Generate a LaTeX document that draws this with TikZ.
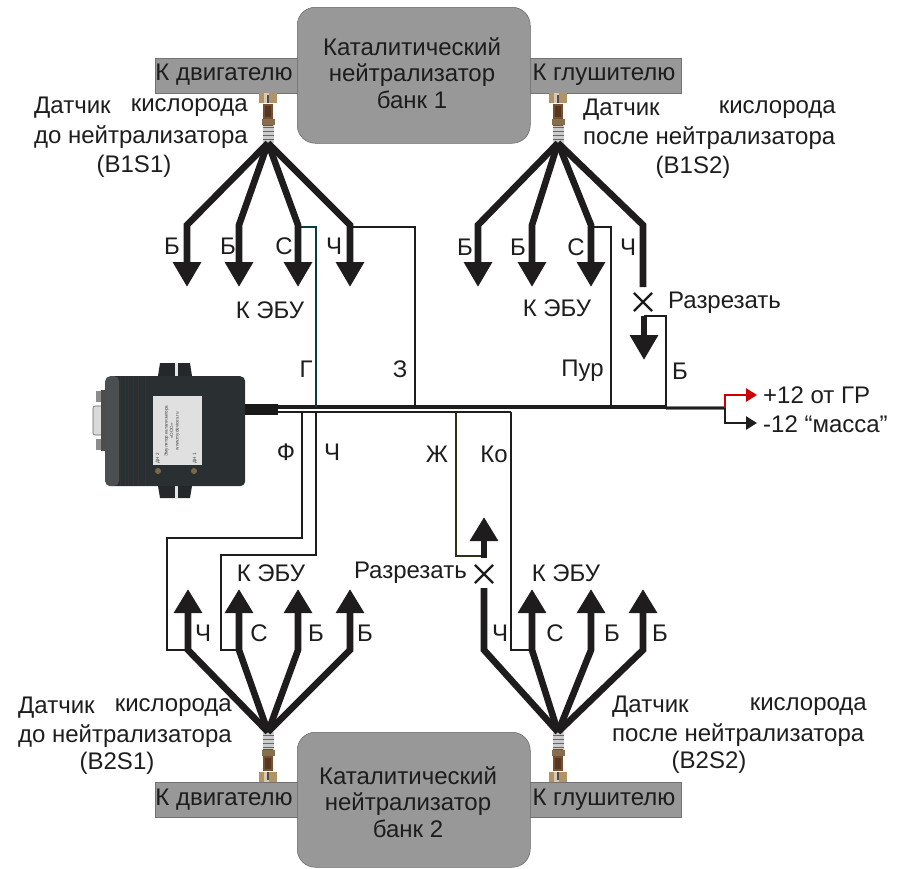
\documentclass[tikz,border=0pt]{standalone}
\usepackage{fontspec}
\setmainfont{Liberation Sans}
\usetikzlibrary{arrows.meta,shapes.misc}
\definecolor{boxgray}{HTML}{989898}
\definecolor{ink}{HTML}{1E1C1C}
\definecolor{teal}{HTML}{0C3A44}
\definecolor{olive}{HTML}{2C3014}
\definecolor{devdark}{HTML}{2A2F31}
\definecolor{brass}{HTML}{B09468}
\definecolor{copper}{HTML}{7A4F30}
\newcommand{\sensorbody}{%
    \fill[black!20] (-5.5,32) rectangle (5.5,50);
    \foreach \yy in {34,38,42,46}{\fill[black!60] (-5.5,\yy) rectangle (5.5,\yy+1.3);}
    \fill[copper] (-5,11) rectangle (5,33);
    \fill[brass!75!black] (-6.5,26) rectangle (6.5,32);
    \fill[copper!70!black] (-3,13) rectangle (3,24);
    \fill[brass] (-9,0) rectangle (9,10);
    \fill[brass!50!white] (-4,0) rectangle (1,10);
    \fill[black!70] (-1.2,2) rectangle (1,10);
}
\tikzset{
  every node/.style={inner sep=0pt,text=ink,font=\fontsize{24}{26}\selectfont},
  catbox/.style={fill=boxgray,draw=black!60,line width=.5,rounded corners=18},
  barbox/.style={fill=boxgray,draw=black!55,line width=.5},
  thickwire/.style={line width=6.6,draw=ink,line join=miter},
  headwire/.style={thickwire,-{Triangle[length=25,width=27]}},
  headwireb/.style={thickwire,-{Triangle[length=24,width=27]}},
  thinwire/.style={line width=2.7,draw=ink},
  smallhead/.style={line width=2.5,-{Triangle[length=11,width=13]}},
  cutmark/.style={cross out,draw=ink,line width=2.2,minimum size=16},
  tiny/.style={font=\fontsize{4.6}{5.6}\selectfont,text=black!75,rotate=90,align=center},
  pics/sensor/.style={code={\sensorbody}},
  pics/sensorup/.style={code={\begin{scope}[y=1pt]\sensorbody\end{scope}}}
}
\begin{document}
\begin{tikzpicture}[x=1pt,y=-1pt]
\useasboundingbox (0,0) rectangle (901,868);
% ---- catalytic converters and pipes
\node[barbox,minimum width=145,minimum height=35,anchor=north west] (eng1) at (155,58) {};
\node[barbox,minimum width=154,minimum height=35,anchor=north west] (muf1) at (527,58) {};
\node[catbox,minimum width=233,minimum height=136,anchor=north west] (cat1) at (297,7) {};
\node[barbox,minimum width=145,minimum height=35,anchor=north west] (eng2) at (155,782) {};
\node[barbox,minimum width=154,minimum height=35,anchor=north west] (muf2) at (527,782) {};
\node[catbox,minimum width=233,minimum height=135,anchor=north west] (cat2) at (297,732) {};
\node (eng1t) at (224,75) {К двигателю};
\node (muf1t) at (604,75) {К глушителю};
\node (eng2t) at (224,800) {К двигателю};
\node (muf2t) at (604,800) {К глушителю};
\node[align=center,font=\fontsize{24}{26.5}\selectfont] (cat1t) at (412,73) {Каталитический\\нейтрализатор\\банк 1};
\node[align=center,font=\fontsize{24}{26.5}\selectfont] (cat2t) at (408,802) {Каталитический\\нейтрализатор\\банк 2};
% ---- sensors
\pic at (268,93) {sensor};
\pic at (558,93) {sensor};
\pic at (268,782) {sensorup};
\pic at (558,782) {sensorup};
% ---- named points
\coordinate (a1) at (268,143);
\coordinate (a2) at (558,143);
\coordinate (a3) at (268,732);
\coordinate (a4) at (558,732);
\foreach \nm/\x in {k1/187,k2/239,k3/298,k4/350,k5/478,k6/532,k7/591,k8/643}{
  \coordinate (\nm) at (\x,225);
  \coordinate (\nm t) at (\x,287);
}
\foreach \nm/\x in {m1/188,m2/239,m3/298,m4/350,m5/484,m6/532,m7/591,m8/643}{
  \coordinate (\nm) at (\x,650);
  \coordinate (\nm t) at (\x,589);
}
% ---- main harness
\coordinate (bS) at (278,407);
\coordinate (bJ) at (456,412);
\coordinate (bK) at (511,412);
\coordinate (bM) at (611,407);
\coordinate (bE) at (666,407);
\coordinate (bR) at (725,408);
\draw[line width=3.6,draw=black!50] (bE |- bR) -- (bR);
\draw[line width=2.2,draw=ink] (bE |- bR) -- (bR);
\draw[line width=4.4,draw=ink] (bS) -- (bM);
\draw[line width=3.6,draw=ink] (bM) -- (bE);
\draw[line width=2.5,draw=ink] (bS |- bK) -- (bK);
% ---- thin wires, top
\draw[thinwire,draw=teal] (k3) ++(0,2) -| (316,407);
\draw[thinwire] (k4) ++(0,2) -| (415,407);
\draw[thinwire] (k7) ++(0,2) -| (611,407);
% ---- fans, top
\foreach \nm in {k1,k2,k3,k4}{ \draw[headwire] (a1) -- (\nm) -- (\nm t); }
\foreach \nm in {k5,k6,k7}{ \draw[headwire] (a2) -- (\nm) -- (\nm t); }
\node[cutmark] (cut1) at (643,302) {};
\coordinate (u1) at (644,316);
\coordinate (u1t) at (644,360);
\draw[thickwire] (a2) -- (k8) -- (643,287);
\draw[thinwire] (u1) -| (666,407);
\draw[headwire] (u1) -- (u1t);
% ---- thin wires, bottom
\draw[thinwire] (302,411) -- (302,538) -- (167,538) |- (m1);
\draw[thinwire] (316,411) -- (316,555) -- (221,555) |- (m2);
\draw[thinwire,draw=olive] (bJ) -- (456,556) -- (484,556);
\draw[thinwire] (bK) -- (511,650) -- (m6);
% ---- fans, bottom
\foreach \nm in {m1,m2,m3,m4}{ \draw[headwireb] (a3) -- (\nm) -- (\nm t); }
\foreach \nm in {m6,m7,m8}{ \draw[headwireb] (a4) -- (\nm) -- (\nm t); }
\node[cutmark] (cut2) at (484,574) {};
\draw[thickwire] (a4) -- (m5) -- (484,588);
\coordinate (u2) at (484,558);
\coordinate (u2t) at (484,517);
\draw[headwireb] (u2) -- (u2t);
% ---- power wires
\coordinate (pr) at (757,395);
\coordinate (pb) at (757,423);
\draw[smallhead,draw=red!80!black] (bR) |- (pr);
\draw[smallhead,draw=ink] (bR) |- (pb);
% ---- device
\fill[devdark!85!black] (158,376) -- (160,363) -- (190,363) -- (192,376) -- cycle;
\fill[devdark!85!black] (158,486) -- (160,498) -- (190,498) -- (192,486) -- cycle;
\fill[white!90!black] (174.5,363) rectangle (177.5,376);
\fill[white!90!black] (174.5,486) rectangle (177.5,498);
\fill[black!45] (96,391) rectangle (105,402);
\fill[black!45] (96,439) rectangle (105,450);
\fill[black!15,draw=black!60,line width=.6,rounded corners=2] (93,406) rectangle (105,435);
\fill[black!70] (101,390) rectangle (107,451);
\node[fill=devdark,rounded corners=5,minimum width=140,minimum height=110,anchor=north west] (dev) at (105,376) {};
\foreach \x in {120,125,128,133,138,145}{\draw[black!80,line width=.8] (\x,376) -- (\x,486);}
\fill[black!30,opacity=.25,rounded corners=5] (105,376) rectangle (119,486);
\node[fill=black!12,minimum width=49,minimum height=69,anchor=north west] (lab) at (153,396) {};
\node[tiny] (lab1) at (172,431) {Эмулятор катализатора\\«ООО»\\www.mydevices.ru};
\node[tiny] (lab2) at (158,458) {ДН 2};
\node[tiny] (lab3) at (195,458) {ДН 1};
\fill[brass!70!black] (158,471) circle (3);
\fill[brass!70!black] (194,471) circle (3);
\node[fill=black!90,minimum width=33,minimum height=11,anchor=west] (cable) at (245,409) {};
% ---- colour letters
\node (t1) at (172,246) {Б};
\node (t2) at (228,246) {Б};
\node (t3) at (284,246) {С};
\node (t4) at (334,246) {Ч};
\node (t5) at (465,247) {Б};
\node (t6) at (518,247) {Б};
\node (t7) at (576,247) {С};
\node (t8) at (628,247) {Ч};
\node (t9) at (306,369) {Г};
\node (t10) at (400,369) {З};
\node[anchor=east] (t11) at (604,371) {Пур};
\node (t12) at (680,371) {Б};
\node (t13) at (286,452) {Ф};
\node (t14) at (332,452) {Ч};
\node (t15) at (437,454) {Ж};
\node[anchor=east] (t16) at (508,454) {Ко};
\node (t17) at (203,633) {Ч};
\node (t18) at (259,633) {С};
\node (t19) at (316,633) {Б};
\node (t20) at (365,633) {Б};
\node (t21) at (500,633) {Ч};
\node (t22) at (555,633) {С};
\node (t23) at (612,633) {Б};
\node (t24) at (660,633) {Б};
% ---- other labels
\node (ecu1) at (270,310) {К ЭБУ};
\node (ecu2) at (557,308) {К ЭБУ};
\node (ecu3) at (271,573) {К ЭБУ};
\node (ecu4) at (566,573) {К ЭБУ};
\node[anchor=west] (cutt1) at (668,303) {Разрезать};
\node[anchor=east] (cutt2) at (467,573) {Разрезать};
\node[anchor=west] (pw1) at (763,395) {+12 от ГР};
\node[anchor=west] (pw2) at (763,424) {-12 “масса”};
% ---- sensor captions
\node[anchor=west] (s1a) at (34,108) {Датчик};
\node[anchor=east] (s1b) at (248,108) {кислорода};
\node[anchor=east] (s1c) at (248,137) {до нейтрализатора};
\node (s1d) at (134,166) {(B1S1)};
\node[anchor=west] (s2a) at (583,110) {Датчик};
\node[anchor=east] (s2b) at (836,110) {кислорода};
\node[anchor=west] (s2c) at (583,138) {после нейтрализатора};
\node (s2d) at (693,167) {(B1S2)};
\node[anchor=west] (s3a) at (18,708) {Датчик};
\node[anchor=east] (s3b) at (232,708) {кислорода};
\node[anchor=east] (s3c) at (232,736) {до нейтрализатора};
\node (s3d) at (117,763) {(B2S1)};
\node[anchor=west] (s4a) at (612,707) {Датчик};
\node[anchor=east] (s4b) at (867,707) {кислорода};
\node[anchor=west] (s4c) at (612,735) {после нейтрализатора};
\node (s4d) at (709,762) {(B2S2)};
\end{tikzpicture}
\end{document}
